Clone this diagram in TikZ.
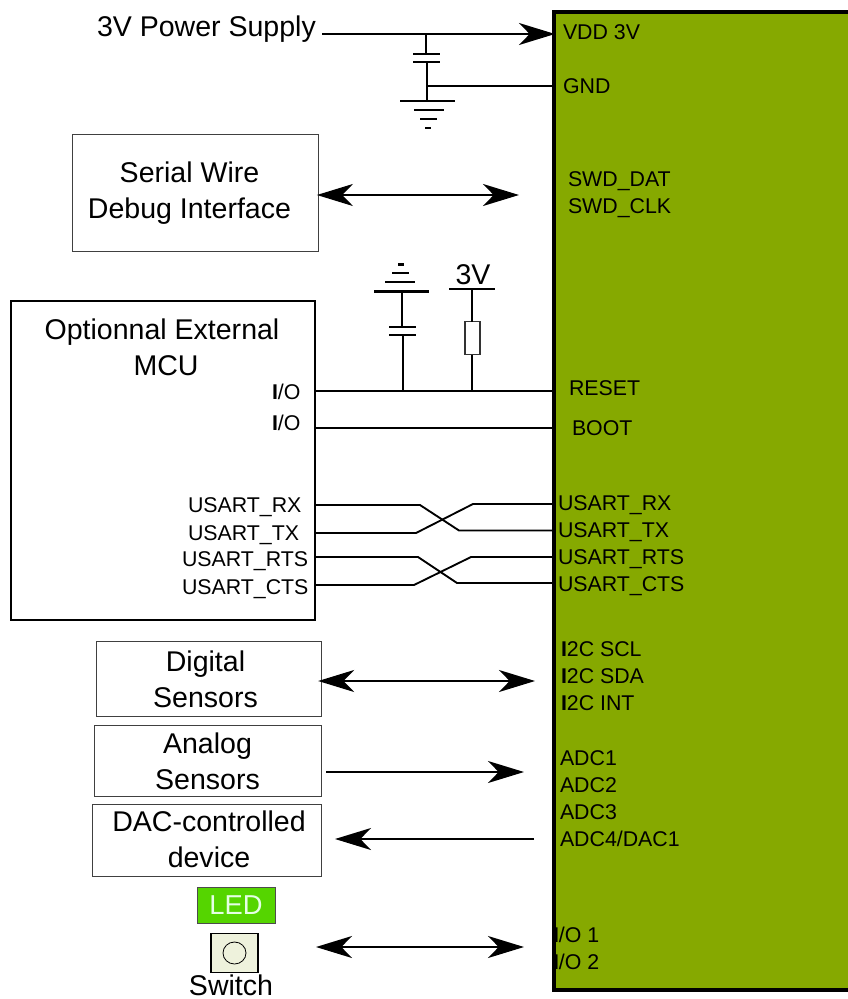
\documentclass[tikz,border=0pt]{standalone}
\usepackage{fontspec}
\setmainfont{Liberation Sans}
\usetikzlibrary{arrows.meta}
\definecolor{chipgreen}{HTML}{86A900}
\definecolor{ledgreen}{HTML}{55D500}
\definecolor{swbg}{HTML}{EEF2DC}
\newcommand{\bigf}{\fontsize{21.4}{27}\selectfont}
\newcommand{\ledf}{\fontsize{20.5}{24}\selectfont}
\newcommand{\midf}{\fontsize{16}{18}\selectfont}
\tikzset{
  x=0.75pt,y=-0.75pt,
  every node/.style={inner sep=0pt,outer sep=0pt},
  wire/.style={line width=1.4pt,black},
  bigarrow/.style={line width=1.5pt,-{Stealth[length=27pt,width=16.5pt,inset=8pt]}},
  bothways/.style={line width=1.5pt,{Stealth[length=27pt,width=16.5pt,inset=8pt]}-{Stealth[length=27pt,width=16.5pt,inset=8pt]}},
  graybox/.style={draw=black!75,line width=0.7pt,fill=white},
  pin/.style={anchor=west,font=\midf,text=black},
  bigtext/.style={font=\bigf,align=center,text=black},
  plate/.style={line width=1.6pt,black}
}
\begin{document}
\begin{tikzpicture}
\useasboundingbox (0,0) rectangle (847,999);
% chip
\fill[chipgreen] (554,12) rectangle (850,990);
\draw[line width=2.4pt] (850,12) -- (554,12) -- (554,990) -- (850,990);
\node[bigtext,anchor=west] (power) at (97,29) {3V Power Supply};
\coordinate (vddpin) at (555,34);
\coordinate (pwrstart) at (322,34);
\coordinate (c1top) at (426,34);
\coordinate (c1a) at (426,54);
\coordinate (c1b) at (427,62);
\coordinate (c1gnd) at (427,101);
\coordinate (gndj) at (427,86);
\coordinate (gndpin) at (556,86);
\draw[bigarrow] (pwrstart) -- (vddpin);
\draw[wire] (c1top) -- (c1a);
\draw[plate] (413,54) -- (440,54);
\draw[plate] (413,62) -- (440,62);
\draw[wire] (c1b) -- (c1gnd);
\draw[wire] (gndj) -- (gndpin);
\draw[plate] (400,101) -- (455,101);
\draw[plate] (414,110) -- (444,110);
\draw[plate] (420,119) -- (437,119);
\draw[plate] (425,128) -- (431,128);
\node[pin] (vdd) at (563,32) {VDD 3V};
\node[pin] (gnd) at (563,86) {GND};
% SWD
\node[graybox,minimum width=246.5*0.75pt,minimum height=117*0.75pt,anchor=north west] (swdbox) at (72,134.5) {};
\node[bigtext] (swdtext) at (189.5,193.5) {Serial Wire\\Debug Interface};
\coordinate (swdend) at (519,195);
\draw[bothways] ([xshift=-1.2pt]swdbox.east |- swdend) -- (swdend);
\node[pin] (swd1) at (568,181) {SWD\_DAT};
\node[pin] (swd2) at (568,208) {SWD\_CLK};
% MCU
\node[draw=black,line width=1.4pt,fill=white,minimum width=304*0.75pt,minimum height=319*0.75pt,anchor=north west] (mcu) at (11,301) {};
\node[bigtext] (mcutext) at (162,347.5) {Optionnal External\\\hspace*{6pt}MCU};
\node[pin] (io1) at (272,392) {\textbf{I}/O};
\node[pin] (io2) at (272,423) {\textbf{I}/O};
\node[pin] (mrx) at (188,507) {USART\_RX};
\node[pin] (mtx) at (188,535) {USART\_TX};
\node[pin] (mrts) at (182,561) {USART\_RTS};
\node[pin] (mcts) at (182,589) {USART\_CTS};
% reset / boot
\coordinate (rl) at (314,391);
\coordinate (rr) at (554,391);
\coordinate (bl) at (314,428);
\coordinate (br) at (554,428);
\draw[wire] (rl) -- (rr);
\draw[wire] (bl) -- (br);
\coordinate (c2j) at (403,391);
\coordinate (c2a) at (403,335);
\coordinate (c2b) at (402,327);
\coordinate (c2t) at (402,292);
\draw[wire] (c2j) -- (c2a);
\draw[wire] (c2b) -- (c2t);
\draw[plate] (389,327) -- (416,327);
\draw[plate] (389,335) -- (416,335);
\draw[plate] (374,291.5) -- (429,291.5);
\draw[plate] (385,282) -- (415,282);
\draw[plate] (392,273) -- (409,273);
\draw[plate] (398,264.5) -- (404,264.5);
\node[draw=black!80,line width=1pt,fill=white,minimum width=15*0.75pt,minimum height=33*0.75pt] (res) at (472.5,338) {};
\coordinate (resj) at (472.2,391);
\coordinate (rest) at (472.2,289);
\draw[wire] (resj) -- (res.south -| resj);
\draw[wire] (res.north -| rest) -- (rest);
\draw[plate] (449,289) -- (495,289);
\node[bigtext] (v3) at (473,275) {3V};
\node[pin] (reset) at (569,388) {RESET};
\node[pin] (boot) at (572,428) {BOOT};
% USART crossing
\coordinate (a1) at (315,505); \coordinate (a2) at (420,505); \coordinate (a3) at (459,530.5); \coordinate (a4) at (554,530.5);
\coordinate (b1) at (315,533); \coordinate (b2) at (416,533); \coordinate (b3) at (473,504); \coordinate (b4) at (554,504);
\coordinate (d1) at (315,557); \coordinate (d2) at (418,557); \coordinate (d3) at (457,583); \coordinate (d4) at (554,583);
\coordinate (e1) at (315,585); \coordinate (e2) at (414,585); \coordinate (e3) at (471,557); \coordinate (e4) at (554,557);
\draw[wire] (a1) -- (a2) -- (a3) -- (a4);
\draw[wire] (b1) -- (b2) -- (b3) -- (b4);
\draw[wire] (d1) -- (d2) -- (d3) -- (d4);
\draw[wire] (e1) -- (e2) -- (e3) -- (e4);
\node[pin] (urx) at (558,505) {USART\_RX};
\node[pin] (utx) at (558,532) {USART\_TX};
\node[pin] (urts) at (558,559) {USART\_RTS};
\node[pin] (ucts) at (558,586) {USART\_CTS};
% digital sensors
\node[graybox,minimum width=225*0.75pt,minimum height=75.5*0.75pt,anchor=north west] (digbox) at (96.5,641) {};
\node[bigtext] (digtext) at (205.5,679) {Digital\\Sensors};
\coordinate (digend) at (535,681);
\draw[bothways] ([xshift=-2.5pt]digbox.east |- digend) -- (digend);
\node[pin] (i2c1) at (561,649) {\textbf{I}2C SCL};
\node[pin] (i2c2) at (561,676) {\textbf{I}2C SDA};
\node[pin] (i2c3) at (561,703) {\textbf{I}2C INT};
% analog sensors
\node[graybox,minimum width=227*0.75pt,minimum height=71.5*0.75pt,anchor=north west] (anabox) at (94.5,725) {};
\node[bigtext] (anatext) at (207.5,761) {Analog\\Sensors};
\coordinate (anas) at (326,772);
\coordinate (anae) at (524,772);
\draw[bigarrow] (anas) -- (anae);
\node[pin] (adc1) at (560,758) {ADC1};
\node[pin] (adc2) at (560,785) {ADC2};
\node[pin] (adc3) at (560,812) {ADC3};
\node[pin] (adc4) at (560,839) {ADC4/DAC1};
% DAC
\node[graybox,minimum width=229*0.75pt,minimum height=72*0.75pt,anchor=north west] (dacbox) at (92.5,804) {};
\node[bigtext] (dactext) at (209,839) {DAC-controlled\\device};
\coordinate (dacs) at (534,839);
\coordinate (dace) at (335,839);
\draw[bigarrow] (dacs) -- (dace);
% LED and switch
\node[draw=black!70,line width=0.7pt,fill=ledgreen,minimum width=78*0.75pt,minimum height=36*0.75pt,text=white!90!green,font=\ledf] (led) at (236,905.5) {LED};
\node[draw=black,line width=0.8pt,fill=swbg,minimum width=47*0.75pt,minimum height=39*0.75pt] (sw) at (234.5,953) {};
\draw[line width=0.6pt] (sw.center) ellipse (11.5 and 11);
\node[font=\bigf,anchor=base] (swtext) at (231,995) {Switch};
\coordinate (ios) at (316,947);
\coordinate (ioe) at (524,947);
\draw[bothways] (ios) -- (ioe);
\node[pin] (pio1) at (553,935) {\textbf{I}/O 1};
\node[pin] (pio2) at (553,962) {\textbf{I}/O 2};
\end{tikzpicture}
\end{document}
